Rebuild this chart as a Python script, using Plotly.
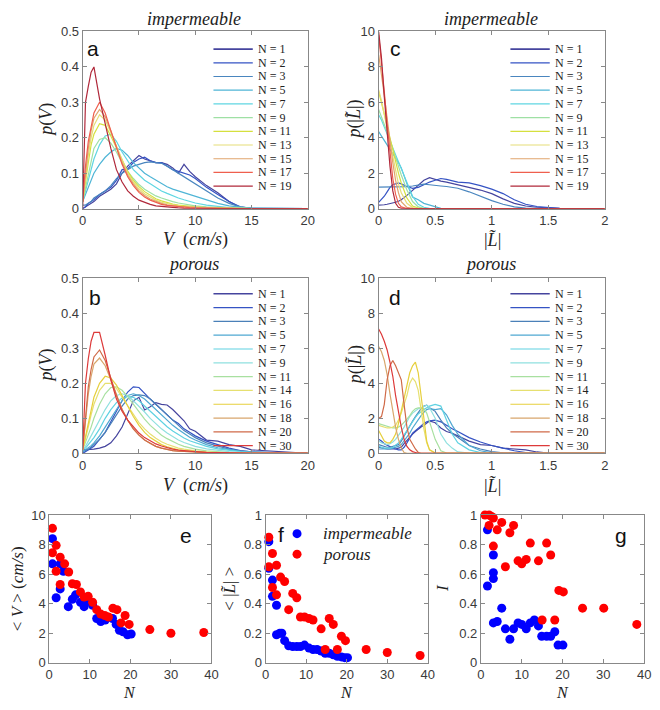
import plotly.graph_objects as go

W, H = 660, 710

# ---------------- data ----------------
V_GRID = [0, 0.25, 0.5, 0.75, 1, 1.5, 2, 2.5, 3, 3.5, 4, 4.5, 5, 5.5, 6, 6.5, 7, 7.5, 8, 8.5,
          9, 9.5, 10, 11, 12, 13, 14, 15, 20]

A_N = [1, 2, 3, 5, 7, 9, 11, 13, 15, 17, 19]
A_COLORS = ['#45449e', '#3553c4', '#4a86bf', '#4fb5d6', '#5fd6e2', '#9ee0a4',
            '#d5e03e', '#e6de78', '#e0a46c', '#ef5f4e', '#b0283a']
A1 = [0, .005, .01, .015, .02, .035, .045, .055, .07, .10, .12, .135, .15, .14, .135, .13, .13, .125, .115, .10, .125, .105, .09, .065, .045, .02, .003, 0, 0]
A2 = [0, .005, .015, .02, .025, .04, .05, .06, .08, .11, .112, .13, .14, .145, .135, .13, .13, .12, .11, .105, .10, .095, .085, .06, .04, .02, .005, .001, 0]
A3 = [.01, .01, .015, .02, .03, .04, .05, .065, .085, .10, .11, .12, .125, .13, .132, .13, .128, .12, .11, .10, .09, .08, .07, .05, .03, .015, .005, .001, 0]
A5 = [.02, .04, .06, .08, .10, .125, .145, .16, .17, .165, .15, .13, .115, .10, .09, .08, .07, .062, .055, .05, .045, .04, .035, .025, .015, .008, .004, .001, 0]
A7 = [.02, .05, .08, .11, .14, .18, .205, .21, .19, .16, .135, .11, .095, .08, .07, .06, .05, .043, .036, .03, .025, .02, .016, .01, .006, .003, .002, .001, 0]
A9 = [.02, .06, .10, .14, .17, .195, .20, .185, .16, .13, .105, .085, .068, .055, .045, .036, .03, .024, .02, .016, .013, .01, .008, .005, .003, .002, .001, 0, 0]
A11 = [.02, .08, .13, .18, .21, .24, .235, .205, .17, .135, .105, .08, .062, .048, .037, .028, .022, .017, .013, .01, .008, .006, .005, .003, .002, .001, .001, 0, 0]
A13 = [.02, .09, .15, .20, .235, .265, .25, .215, .175, .135, .10, .075, .056, .042, .032, .024, .018, .014, .011, .008, .006, .005, .004, .002, .001, .001, 0, 0, 0]
A15 = [.02, .10, .17, .22, .255, .28, .26, .22, .175, .13, .095, .07, .05, .037, .027, .02, .015, .011, .008, .006, .005, .004, .003, .002, .001, .001, 0, 0, 0]
A17 = [.02, .12, .19, .235, .27, .30, .27, .22, .17, .125, .09, .065, .046, .033, .024, .017, .012, .009, .007, .005, .004, .003, .002, .001, .001, 0, 0, 0, 0]
A19 = [0, .30, .345, .385, .40, .31, .24, .17, .11, .075, .05, .035, .024, .017, .012, .008, .006, .004, .003, .002, .001, .001, 0, 0, 0, 0, 0, 0, 0]
A_P = [A1, A2, A3, A5, A7, A9, A11, A13, A15, A17, A19]

B_N = [1, 2, 3, 5, 7, 9, 11, 14, 16, 18, 20, 30]
B_COLORS = ['#45449e', '#3553c4', '#4a80b8', '#4fa8d2', '#5fd2e2', '#8fe0df',
            '#a8e0a0', '#e6e070', '#e6cf3c', '#d8a66c', '#d06a48', '#dd3a3a']
B1 = [.01, .01, .01, .01, .012, .015, .02, .03, .05, .075, .11, .15, .16, .124, .133, .145, .14, .138, .125, .11, .093, .07, .063, .038, .035, .025, .02, .01, 0]
B2 = [0, .005, .01, .015, .02, .04, .06, .09, .12, .15, .175, .19, .188, .17, .155, .14, .125, .11, .095, .085, .07, .06, .05, .035, .025, .015, .008, .004, 0]
B3 = [.005, .008, .012, .018, .025, .04, .06, .085, .11, .135, .155, .165, .167, .165, .155, .14, .125, .11, .095, .08, .065, .055, .045, .03, .02, .012, .007, .004, 0]
B5 = [.005, .01, .015, .022, .03, .05, .075, .10, .125, .15, .165, .17, .165, .155, .14, .125, .11, .095, .08, .068, .056, .046, .038, .025, .016, .01, .006, .003, 0]
B7 = [.01, .015, .025, .035, .045, .07, .10, .125, .145, .158, .163, .16, .15, .135, .12, .105, .09, .076, .064, .053, .044, .036, .03, .02, .013, .008, .005, .003, 0]
B9 = [.01, .02, .035, .05, .065, .095, .125, .15, .165, .17, .165, .15, .135, .118, .10, .085, .07, .058, .047, .038, .031, .025, .02, .013, .008, .005, .003, .002, 0]
B11 = [.01, .03, .05, .075, .10, .14, .17, .188, .19, .18, .162, .14, .118, .098, .08, .065, .052, .042, .033, .026, .02, .016, .012, .007, .004, .002, .001, .001, 0]
B14 = [.01, .04, .075, .11, .14, .18, .20, .20, .185, .16, .135, .11, .088, .07, .055, .043, .033, .026, .02, .015, .012, .009, .007, .004, .002, .001, .001, 0, 0]
B16 = [.01, .05, .09, .13, .16, .20, .22, .215, .195, .165, .135, .105, .08, .06, .045, .034, .025, .019, .014, .01, .008, .006, .004, .002, .001, 0, 0, 0, 0]
B18 = [.01, .10, .17, .22, .255, .272, .25, .21, .165, .125, .095, .07, .052, .038, .028, .02, .015, .011, .008, .006, .005, .004, .003, .002, .001, 0, 0, 0, 0]
B20 = [.01, .11, .19, .24, .275, .295, .265, .215, .165, .125, .095, .07, .052, .038, .028, .02, .015, .011, .008, .006, .005, .004, .003, .002, .001, 0, 0, 0, 0]
B30 = [.01, .20, .27, .32, .345, .345, .28, .21, .155, .12, .095, .075, .058, .045, .035, .027, .021, .016, .012, .009, .007, .006, .005, .003, .002, .001, .001, .001, .001]
B_P = [B1, B2, B3, B5, B7, B9, B11, B14, B16, B18, B20, B30]

C_GRID = [0, 0.025, 0.05, 0.075, 0.1, 0.125, 0.15, 0.175, 0.2, 0.25, 0.3, 0.35, 0.4, 0.45,
          0.5, 0.55, 0.6, 0.7, 0.8, 0.9, 1.0, 1.1, 1.2, 1.3, 1.4, 1.5, 1.6, 2.0]
C1 = [.2, .2, .22, .25, .28, .32, .36, .42, .5, .75, 1.05, 1.35, 1.6, 1.75, 1.65, 1.55, 1.5, 1.35, 1.2, 1.05, .85, .55, .3, .15, .08, .04, .01, 0]
C2 = [.35, .5, .7, .95, 1.2, 1.35, 1.42, 1.45, 1.4, 1.25, 1.15, 1.2, 1.35, 1.5, 1.6, 1.7, 1.65, 1.5, 1.45, 1.3, 1.1, .85, .5, .25, .12, .05, .02, 0]
C3 = [1.22, 1.22, 1.22, 1.22, 1.22, 1.22, 1.22, 1.22, 1.22, 1.24, 1.28, 1.35, 1.38, 1.35, 1.3, 1.28, 1.25, 1.15, .95, .7, .45, .25, .1, .03, 0, 0, 0, 0]
C5 = [4.35, 4.1, 3.85, 3.6, 3.4, 3.1, 2.85, 2.6, 2.3, 1.4, .65, .5, .3, .2, .08, .02, 0, 0, 0, 0, 0, 0, 0, 0, 0, 0, 0, 0]
C7 = [5.3, 5.0, 4.6, 4.2, 3.8, 3.4, 3.0, 2.6, 2.2, 1.4, .7, .25, .08, .02, 0, 0, 0, 0, 0, 0, 0, 0, 0, 0, 0, 0, 0, 0]
C9 = [5.6, 5.2, 4.8, 4.4, 3.9, 3.4, 2.9, 2.4, 1.9, 1.05, .4, .1, .02, 0, 0, 0, 0, 0, 0, 0, 0, 0, 0, 0, 0, 0, 0, 0]
C11 = [6.6, 6.0, 5.4, 4.7, 4.0, 3.3, 2.6, 2.0, 1.45, .6, .15, .03, 0, 0, 0, 0, 0, 0, 0, 0, 0, 0, 0, 0, 0, 0, 0, 0]
C13 = [6.7, 6.1, 5.3, 4.5, 3.6, 2.8, 2.0, 1.4, .9, .3, .06, 0, 0, 0, 0, 0, 0, 0, 0, 0, 0, 0, 0, 0, 0, 0, 0, 0]
C15 = [8.7, 7.6, 6.4, 5.1, 3.8, 2.6, 1.6, .9, .4, .07, 0, 0, 0, 0, 0, 0, 0, 0, 0, 0, 0, 0, 0, 0, 0, 0, 0, 0]
C17 = [9.8, 8.3, 6.6, 4.8, 3.1, 1.7, .8, .3, .1, .01, 0, 0, 0, 0, 0, 0, 0, 0, 0, 0, 0, 0, 0, 0, 0, 0, 0, 0]
C19 = [10, 8.5, 6.3, 4.2, 2.4, 1.0, .3, .08, .02, 0, 0, 0, 0, 0, 0, 0, 0, 0, 0, 0, 0, 0, 0, 0, 0, 0, 0, 0]
C_P = [C1, C2, C3, C5, C7, C9, C11, C13, C15, C17, C19]

D_GRID = [0, .025, .05, .075, .1, .125, .15, .175, .2, .225, .25, .275, .3, .325, .35, .375, .4,
          .425, .45, .5, .55, .6, .65, .7, .8, .9, 1.0, 1.1, 1.2, 1.3, 1.4, 1.5, 2.0]
D1 = [0.35, 0.3, 0.28, 0.25, 0.25, 0.25, 0.25, 0.3, 0.35, 0.55, 0.75, 0.95, 1.1, 1.25, 1.4, 1.5, 1.6, 1.7, 1.85, 1.75, 1.45, 1.25, 1.15, 1.0, 0.7, 0.5, 0.45, 0.3, 0.25, 0.2, 0.08, 0.02, 0]
D2 = [0.8, 0.7, 0.55, 0.45, 0.35, 0.3, 0.25, 0.2, 0.2, 0.35, 0.6, 0.9, 1.15, 1.3, 1.45, 1.6, 1.7, 1.8, 1.85, 1.9, 1.8, 1.6, 1.4, 1.25, 0.9, 0.65, 0.45, 0.3, 0.15, 0.05, 0, 0, 0]
D3 = [0.5, 0.45, 0.4, 0.35, 0.35, 0.4, 0.45, 0.5, 0.7, 1.0, 1.3, 1.6, 1.85, 2.1, 2.35, 2.55, 2.7, 2.75, 2.6, 2.4, 1.9, 1.45, 1.15, 0.9, 0.45, 0.25, 0.1, 0.03, 0, 0, 0, 0, 0]
D5 = [0.25, 0.25, 0.25, 0.25, 0.25, 0.3, 0.35, 0.4, 0.5, 0.7, 0.9, 1.15, 1.45, 1.7, 1.95, 2.15, 2.35, 2.5, 2.55, 2.5, 2.55, 2.2, 1.6, 1.1, 0.45, 0.15, 0.03, 0, 0, 0, 0, 0, 0]
D7 = [0.4, 0.35, 0.3, 0.3, 0.3, 0.35, 0.45, 0.6, 0.8, 1.05, 1.35, 1.6, 1.85, 2.05, 2.25, 2.4, 2.5, 2.6, 2.7, 2.8, 2.7, 1.9, 1.1, 0.6, 0.2, 0.05, 0, 0, 0, 0, 0, 0, 0]
D9 = [0.7, 0.6, 0.55, 0.5, 0.55, 0.65, 0.8, 1.0, 1.25, 1.5, 1.85, 2.1, 2.3, 2.45, 2.55, 2.6, 2.7, 2.75, 2.6, 2.0, 1.1, 0.6, 0.3, 0.08, 0.01, 0, 0, 0, 0, 0, 0, 0, 0]
D11 = [1.7, 1.65, 1.6, 1.55, 1.5, 1.45, 1.45, 1.5, 1.6, 1.75, 1.95, 2.15, 2.4, 2.55, 2.6, 2.6, 2.55, 2.3, 1.8, 0.8, 0.15, 0.02, 0, 0, 0, 0, 0, 0, 0, 0, 0, 0, 0]
D14 = [1.6, 1.55, 1.5, 1.45, 1.45, 1.5, 1.6, 1.9, 2.3, 2.8, 3.3, 4.0, 4.3, 4.1, 3.6, 2.5, 1.4, 0.6, 0.2, 0.02, 0, 0, 0, 0, 0, 0, 0, 0, 0, 0, 0, 0, 0]
D16 = [1.3, 1.0, 0.7, 0.6, 0.6, 0.8, 1.1, 1.7, 2.4, 3.1, 3.9, 4.6, 5.0, 5.2, 4.6, 3.4, 1.9, 0.7, 0.2, 0.02, 0, 0, 0, 0, 0, 0, 0, 0, 0, 0, 0, 0, 0]
D18 = [6.1, 5.8, 5.3, 4.5, 3.4, 2.4, 1.5, 0.8, 0.3, 0.05, 0, 0, 0, 0, 0, 0, 0, 0, 0, 0, 0, 0, 0, 0, 0, 0, 0, 0, 0, 0, 0, 0, 0]
D20 = [2.0, 2.1, 2.8, 4.2, 5.0, 5.3, 5.0, 4.6, 4.2, 2.8, 1.5, 0.8, 0.5, 0.25, 0.05, 0, 0, 0, 0, 0, 0, 0, 0, 0, 0, 0, 0, 0, 0, 0, 0, 0, 0]
D30 = [7.1, 6.8, 6.4, 5.9, 5.2, 4.4, 3.3, 2.3, 1.5, 0.8, 0.4, 0.2, 0.1, 0.05, 0, 0, 0, 0, 0, 0, 0, 0, 0, 0, 0, 0, 0, 0, 0, 0, 0, 0, 0]
D_P = [D1, D2, D3, D5, D7, D9, D11, D14, D16, D18, D20, D30]

E_IMP_N = [0.8, 0.8, 1.7, 2.7, 2.7, 3.5, 4.7, 5.7, 6.5, 7.7, 8.6, 9.6, 10.7, 11.7, 12.7, 13.8, 15.6, 16.5, 17.3, 18.2, 19.3, 20.2]
E_IMP_V = [8.4, 6.7, 4.4, 6.7, 5.0, 6.2, 3.8, 4.3, 4.6, 4.1, 3.8, 4.2, 3.9, 3.0, 2.8, 2.9, 3.0, 2.6, 2.2, 2.1, 1.9, 1.95]
E_POR_N = [0.8, 0.8, 1.7, 1.7, 2.7, 2.7, 3.8, 4.8, 5.7, 6.7, 7.7, 8.6, 9.6, 10.7, 11.7, 12.7, 13.7, 14.6, 15.7, 16.7, 17.7, 18.7, 19.7, 24.8, 30.0, 38.1]
E_POR_V = [9.1, 7.45, 7.95, 6.2, 7.15, 5.3, 6.7, 6.15, 5.35, 5.3, 4.8, 4.45, 4.5, 4.1, 3.6, 3.3, 3.2, 3.1, 3.7, 3.6, 2.7, 3.2, 2.6, 2.25, 2.0, 2.05]

F_IMP_N = [0.8, 0.8, 1.7, 1.7, 2.7, 2.7, 3.5, 4.0, 4.7, 5.7, 6.7, 7.7, 8.6, 9.6, 10.7, 11.7, 12.7, 13.7, 14.7, 15.7, 16.7, 17.7, 18.7, 19.5, 20.2]
F_IMP_L = [0.82, 0.64, 0.56, 0.45, 0.39, 0.19, 0.20, 0.20, 0.15, 0.115, 0.11, 0.11, 0.11, 0.12, 0.10, 0.09, 0.09, 0.08, 0.065, 0.065, 0.055, 0.045, 0.04, 0.035, 0.035]
F_POR_N = [0.8, 0.8, 1.7, 1.7, 2.7, 2.7, 3.7, 4.7, 5.7, 6.7, 7.7, 8.6, 9.6, 10.7, 11.7, 13.7, 14.7, 15.7, 16.7, 17.7, 18.7, 19.7, 24.8, 30.0, 38.1]
F_POR_L = [0.85, 0.65, 0.74, 0.51, 0.66, 0.46, 0.58, 0.55, 0.36, 0.47, 0.44, 0.31, 0.31, 0.30, 0.29, 0.23, 0.09, 0.30, 0.26, 0.09, 0.18, 0.15, 0.09, 0.07, 0.05]

G_IMP_N = [1.6, 1.6, 3.05, 3.05, 3.05, 3.05, 4.0, 5.1, 6.0, 7.1, 8.0, 9.1, 10.0, 11.1, 12.1, 13.1, 14.1, 14.9, 16.1, 17.1, 18.1, 18.9, 20.1]
G_IMP_I = [0.90, 0.52, 0.73, 0.61, 0.57, 0.27, 0.28, 0.37, 0.23, 0.16, 0.23, 0.27, 0.26, 0.23, 0.27, 0.29, 0.25, 0.18, 0.18, 0.18, 0.21, 0.12, 0.12]
G_POR_N = [1.0, 2.0, 2.6, 2.0, 3.05, 3.05, 4.0, 5.1, 6.0, 7.1, 8.0, 9.1, 10.0, 11.1, 12.1, 14.1, 15.0, 16.1, 17.1, 18.1, 19.1, 20.2, 24.9, 30.1, 38.2]
G_POR_I = [1.0, 1.0, 0.99, 0.93, 0.98, 0.79, 0.90, 0.95, 0.65, 0.88, 0.93, 0.69, 0.67, 0.70, 0.81, 0.69, 0.29, 0.81, 0.73, 0.29, 0.49, 0.48, 0.37, 0.37, 0.26]

# ---------------- style ----------------
AXC = '#888888'
TICKFONT = dict(family='Liberation Sans, Arial, sans-serif', size=13, color='#3a3a3a')
SERIF = 'Liberation Serif, Times New Roman, serif'
SANS = 'Liberation Sans, Arial, sans-serif'


def px(x):
    return x / W


def py(y):
    return 1 - y / H


# panels: axis id, x pixel span, y pixel span, x range, x dtick, y range, y dtick
PANELS = [
    ('', (80, 309), (25, 206), [0, 20], 5, [0, 0.5], 0.1),     # a
    ('2', (381, 611), (25, 206), [0, 2], 0.5, [0, 10], 2),     # c
    ('3', (80, 309), (277, 456), [0, 20], 5, [0, 0.5], 0.1),   # b
    ('4', (381, 611), (277, 456), [0, 2], 0.5, [0, 10], 2),    # d
    ('5', (46, 211), (519, 670), [0, 40], 10, [0, 10], 2),     # e
    ('6', (266, 431), (519, 670), [0, 40], 10, [0, 1], 0.2),   # f
    ('7', (485, 651), (519, 670), [0, 40], 10, [0, 1], 0.2),   # g
]

fig = go.Figure()
layout = dict(width=W, height=H, margin=dict(l=0, r=0, t=0, b=0),
              paper_bgcolor='white', plot_bgcolor='white', showlegend=False)

for aid, xs, ys, xr, xd, yr, yd in PANELS:
    common = dict(showline=True, mirror='ticks', linecolor=AXC, linewidth=1,
                  ticks='inside', ticklen=4, tickcolor=AXC, showgrid=False,
                  zeroline=False, tickfont=TICKFONT, fixedrange=True, tick0=0)
    layout['xaxis' + aid] = dict(domain=[px(xs[0]), px(xs[1])], range=xr, dtick=xd,
                                 anchor='y' + aid, **common)
    layout['yaxis' + aid] = dict(domain=[py(ys[1]), py(ys[0])], range=yr, dtick=yd,
                                 anchor='x' + aid, **common)
fig.update_layout(**layout)


def fit(vals, n):
    vals = list(vals)[:n]
    return vals + [0] * (n - len(vals))


def add_curves(grid, curves, colors, aid):
    for ys, c in zip(curves, colors):
        fig.add_trace(go.Scatter(x=grid, y=fit(ys, len(grid)), mode='lines',
                                 line=dict(color=c, width=1.2),
                                 xaxis='x' + aid, yaxis='y' + aid, hoverinfo='skip'))


add_curves(V_GRID, A_P, A_COLORS, '')
add_curves(C_GRID, C_P, A_COLORS, '2')
add_curves(V_GRID, B_P, B_COLORS, '3')
add_curves(D_GRID, D_P, B_COLORS, '4')


def add_dots(xv, yv, color, aid):
    fig.add_trace(go.Scatter(x=xv, y=yv, mode='markers', cliponaxis=False,
                             marker=dict(color=color, size=9, line=dict(width=0)),
                             xaxis='x' + aid, yaxis='y' + aid, hoverinfo='skip'))


add_dots(E_IMP_N, E_IMP_V, '#0000ff', '5')
add_dots(E_POR_N, E_POR_V, '#ff0000', '5')
add_dots(F_IMP_N, F_IMP_L, '#0000ff', '6')
add_dots(F_POR_N, F_POR_L, '#ff0000', '6')
add_dots(G_IMP_N, G_IMP_I, '#0000ff', '7')
add_dots(G_POR_N, G_POR_I, '#ff0000', '7')

shapes = []
annotations = []


def text(x, y, s, size, family=SERIF, color='#222222', xanchor='center', angle=0, pad=1):
    annotations.append(dict(x=px(x), y=py(y), xref='paper', yref='paper', text=s,
                            showarrow=False, xanchor=xanchor, yanchor='middle',
                            borderpad=pad,
                            textangle=angle, font=dict(family=family, size=size, color=color)))


# legends for the pdf panels
def legend(x0, y0, step, nlist, colors):
    for i, (n, c) in enumerate(zip(nlist, colors)):
        yy = y0 + step * i
        shapes.append(dict(type='line', xref='paper', yref='paper',
                           x0=px(x0), x1=px(x0 + 40), y0=py(yy), y1=py(yy),
                           line=dict(color=c, width=1.6 if i == 0 else 1.2)))
        text(x0 + 44, yy, 'N = %d' % n, 12, xanchor='left', pad=0)


legend(213, 43, 14, A_N, A_COLORS)
legend(515, 43, 14, A_N, A_COLORS)
legend(213, 293, 14.1, B_N, B_COLORS)
legend(515, 293, 14.1, B_N, B_COLORS)

# titles
text(193, 12, '<i>impermeable</i>', 18)
text(495, 12, '<i>impermeable</i>', 18)
text(193, 263, '<i>porous</i>', 18)
text(495, 263, '<i>porous</i>', 18)

# axis titles
text(195, 238, '<i>V</i>  (<i>cm/s</i>)', 18)
text(497, 238, '|<i>L̃</i>|', 18)
text(195, 489, '<i>V</i>  (<i>cm/s</i>)', 18)
text(497, 489, '|<i>L̃</i>|', 18)
text(43, 115, '<i>p</i>(<i>V</i>)', 18, angle=-90)
text(357, 115, '<i>p</i>(|<i>L̃</i>|)', 18, angle=-90)
text(43, 366, '<i>p</i>(<i>V</i>)', 18, angle=-90)
text(357, 366, '<i>p</i>(|<i>L̃</i>|)', 18, angle=-90)
text(14, 594, '&lt; <i>V</i> &gt; (<i>cm/s</i>)', 17, angle=-90)
text(229, 594, '&lt; |<i>L̃</i>| &gt;', 17, angle=-90)
text(446, 594, '<i>I</i>', 17, angle=-90)
text(128, 700, '<i>N</i>', 16)
text(348, 700, '<i>N</i>', 16)
text(568, 700, '<i>N</i>', 16)

# panel letters
for lx, ly, s in [(91, 42, 'a'), (398, 42, 'c'), (93, 297, 'b'), (398, 297, 'd'),
                  (185, 540, 'e'), (282, 539, 'f'), (627, 540, 'g')]:
    text(lx, ly, s, 21, family=SANS, color='#111111')

# legend of panel f
for cy, col, lab in [(538, '#0000ff', 'impermeable'), (559, '#ff0000', 'porous')]:
    shapes.append(dict(type='circle', xref='paper', yref='paper',
                       xsizemode='pixel', ysizemode='pixel',
                       xanchor=px(298), yanchor=py(cy), x0=-4.5, x1=4.5, y0=-4.5, y1=4.5,
                       fillcolor=col, line=dict(width=0)))
    text(322, cy, '<i>%s</i>' % lab, 17, xanchor='left')

fig.update_layout(shapes=shapes, annotations=annotations)
fig.write_html('out.html')
